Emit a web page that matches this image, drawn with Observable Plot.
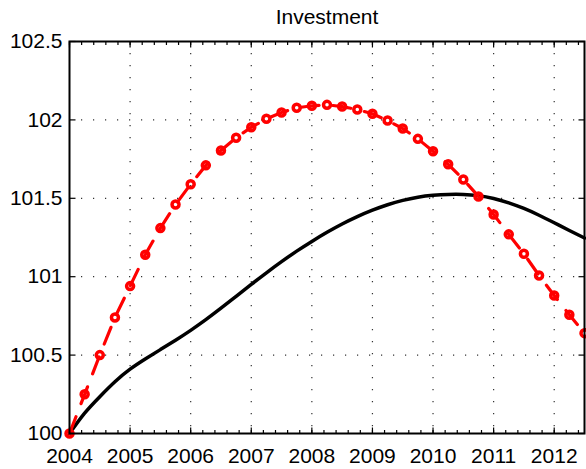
<!DOCTYPE html>
<html><head><meta charset="utf-8">
<script src="https://cdn.jsdelivr.net/npm/d3@7"></script>
<script src="https://cdn.jsdelivr.net/npm/@observablehq/plot@0.6"></script>
<style>body{margin:0;background:#fff;} svg{display:block}</style>
</head><body><div id="chart"></div>
<script>
const title = "Investment";
const dates = [2004, 2004.25, 2004.5, 2004.75, 2005, 2005.25, 2005.5, 2005.75,
  2006, 2006.25, 2006.5, 2006.75, 2007, 2007.25, 2007.5, 2007.75,
  2008, 2008.25, 2008.5, 2008.75, 2009, 2009.25, 2009.5, 2009.75,
  2010, 2010.25, 2010.5, 2010.75, 2011, 2011.25, 2011.5, 2011.75,
  2012, 2012.25, 2012.5];
const redSeries = [100.00, 100.25, 100.50, 100.74, 100.94, 101.14, 101.31, 101.46,
  101.59, 101.71, 101.805, 101.886, 101.953, 102.007, 102.047, 102.077,
  102.090, 102.096, 102.085, 102.066, 102.039, 101.996, 101.945, 101.879,
  101.80, 101.717, 101.62, 101.512, 101.397, 101.27, 101.146, 101.008,
  100.88, 100.757, 100.64];
const blackSeries = [100.00, 100.13, 100.235, 100.33, 100.41, 100.475, 100.535, 100.595,
  100.658, 100.726, 100.799, 100.875, 100.951, 101.025, 101.096, 101.163,
  101.225, 101.283, 101.336, 101.383, 101.424, 101.459, 101.487, 101.507,
  101.519, 101.525, 101.525, 101.517, 101.499, 101.471, 101.435, 101.392,
  101.344, 101.295, 101.247];
const xTicks = [2004, 2005, 2006, 2007, 2008, 2009, 2010, 2011, 2012];
const yTicks = [100, 100.5, 101, 101.5, 102, 102.5];
const yTickLabels = ["100", "100.5", "101", "101.5", "102", "102.5"];
const xMinorTicks = d3.range(0, 43).map(i => +(2004 + i * 0.2).toFixed(1));

const red = dates.map((t, i) => ({t, v: redSeries[i]}));
const black = dates.map((t, i) => ({t, v: blackSeries[i]}));

const font = "Liberation Sans, Arial, Helvetica, sans-serif";
const tickStyle = {stroke: "black", strokeWidth: 1.2, r: 0, anchor: "start", strokeLinecap: "butt"};
const gridStyle = {stroke: "#333", strokeOpacity: 1, strokeWidth: 1.2, strokeDasharray: "1.2,10.8"};

const chart = Plot.plot({
  width: 586,
  height: 469,
  marginLeft: 69,
  marginRight: 2,
  marginTop: 41,
  marginBottom: 36,
  style: {fontFamily: font, fontSize: "21px", color: "black", background: "white"},
  x: {domain: [2004, 2012.5], nice: false, label: null},
  y: {domain: [100, 102.5], nice: false, label: null},
  marks: [
    Plot.gridX(xTicks.slice(1), gridStyle),
    Plot.gridY(yTicks.slice(1, -1), gridStyle),
    Plot.vector(xMinorTicks, {x: d => d, frameAnchor: "bottom", length: 3.5, rotate: 0, ...tickStyle}),
    Plot.vector(xMinorTicks, {x: d => d, frameAnchor: "top", length: 3.5, rotate: 180, ...tickStyle}),
    Plot.vector(xTicks, {x: d => d, frameAnchor: "bottom", length: 6, rotate: 0, ...tickStyle}),
    Plot.vector(xTicks, {x: d => d, frameAnchor: "top", length: 6, rotate: 180, ...tickStyle}),
    Plot.vector(yTicks, {y: d => d, frameAnchor: "left", length: 6, rotate: 90, ...tickStyle}),
    Plot.vector(yTicks, {y: d => d, frameAnchor: "right", length: 6, rotate: 270, ...tickStyle}),
    Plot.axisX(xTicks, {tickSize: 0, tickPadding: 15, tickFormat: d => String(d), fontSize: 21, fill: "black", label: null}),
    Plot.axisY(yTicks, {tickSize: 0, tickPadding: 7, tickFormat: d => yTickLabels[yTicks.indexOf(d)], fontSize: 21, fill: "black", label: null}),
    Plot.line(black, {x: "t", y: "v", stroke: "black", strokeWidth: 3.5, curve: "natural"}),
    Plot.line(red, {x: "t", y: "v", stroke: "#ff0000", strokeWidth: 3.2, strokeDasharray: "18,14"}),
    Plot.dot(red, {x: "t", y: "v", r: 3.5, stroke: "#ff0000", strokeWidth: 3.5, fill: "none"}),
    Plot.frame({stroke: "black", strokeWidth: 2}),
    Plot.text([title], {frameAnchor: "top", dy: -24, lineAnchor: "middle", fontSize: 21, fill: "black", text: d => d})
  ]
});
document.getElementById("chart").appendChild(chart);
</script>
</body></html>
